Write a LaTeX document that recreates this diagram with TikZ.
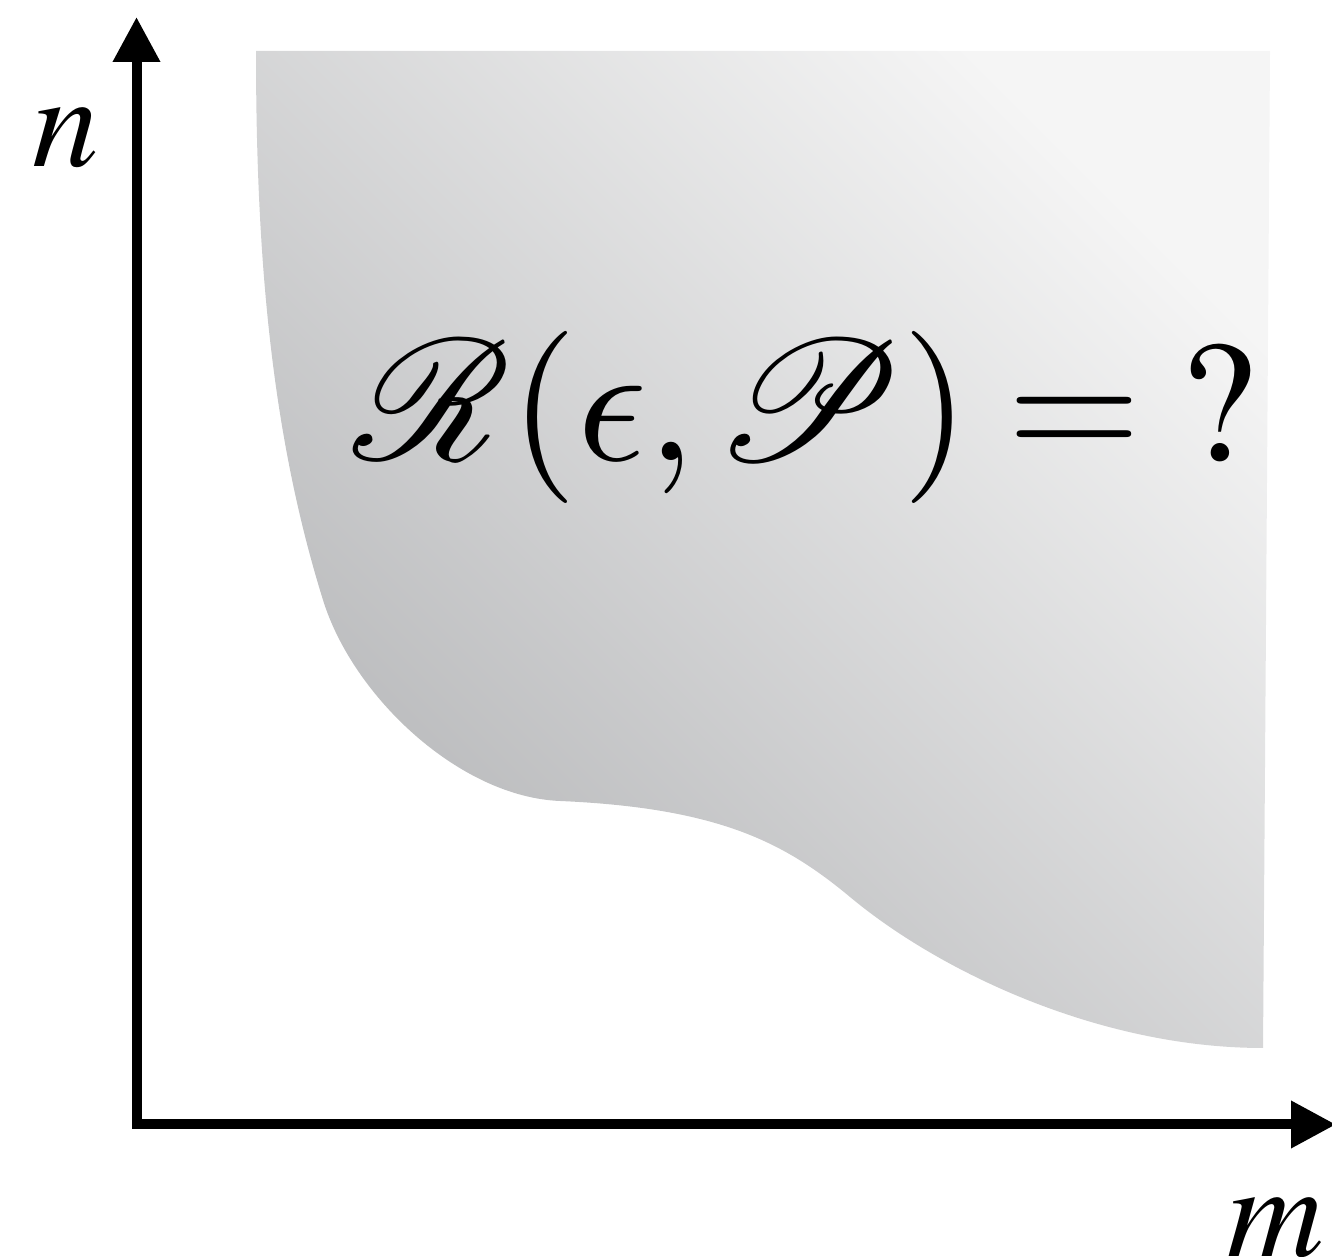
\documentclass[tikz,border=0pt]{standalone}
\usepackage{amsmath}
\usepackage{mathptmx}
\usepackage{mathrsfs}
\usetikzlibrary{arrows.meta}
\DeclareSymbolFont{cmletters}{OML}{cmm}{m}{it}
\DeclareMathSymbol{\lunateps}{\mathord}{cmletters}{"0F}
\definecolor{regionlight}{HTML}{F5F5F5}
\definecolor{regiondark}{HTML}{B6B7B9}

\begin{document}
\begin{tikzpicture}[>={Triangle[length=4.5mm,width=4.5mm]}, line join=miter,
	axis/.style={line width=1mm},
	region/.style={top color=regionlight, bottom color=regiondark, shading angle=-45},
	varlabel/.style={scale=3.8, anchor=base, inner sep=0pt},
	question/.style={scale=4.9, anchor=base, inner sep=0pt}]
	\useasboundingbox (0,0) rectangle (13.32,12.57);
	\coordinate (O) at (1.365,1.325);
	\coordinate (ytip) at (1.365,12.40);
	\coordinate (xtip) at (13.36,1.325);
	% region of achievable pairs
	\shade[region] (2.56,12.06) -- (12.70,12.06) -- (12.63,2.09)
		.. controls (11.00,2.09) and (9.40,2.85) .. (8.50,3.60)
		.. controls (7.85,4.14) and (7.20,4.49) .. (5.60,4.56)
		.. controls (4.60,4.60) and (3.53,5.60) .. (3.23,6.57)
		.. controls (2.70,8.27) and (2.56,10.07) .. (2.56,12.06) -- cycle;
	\draw[axis,<->] (ytip) -- (O) -- (xtip);
	\node[varlabel] (nlab) at (0.66,10.90) {$n$};
	\node[varlabel] (mlab) at (12.76,0) {$m$};
	\node[question] (rate) at (8.05,7.96) {$\mathscr{R}(\lunateps,\mathscr{P}) = {?}$};
\end{tikzpicture}
\end{document}
